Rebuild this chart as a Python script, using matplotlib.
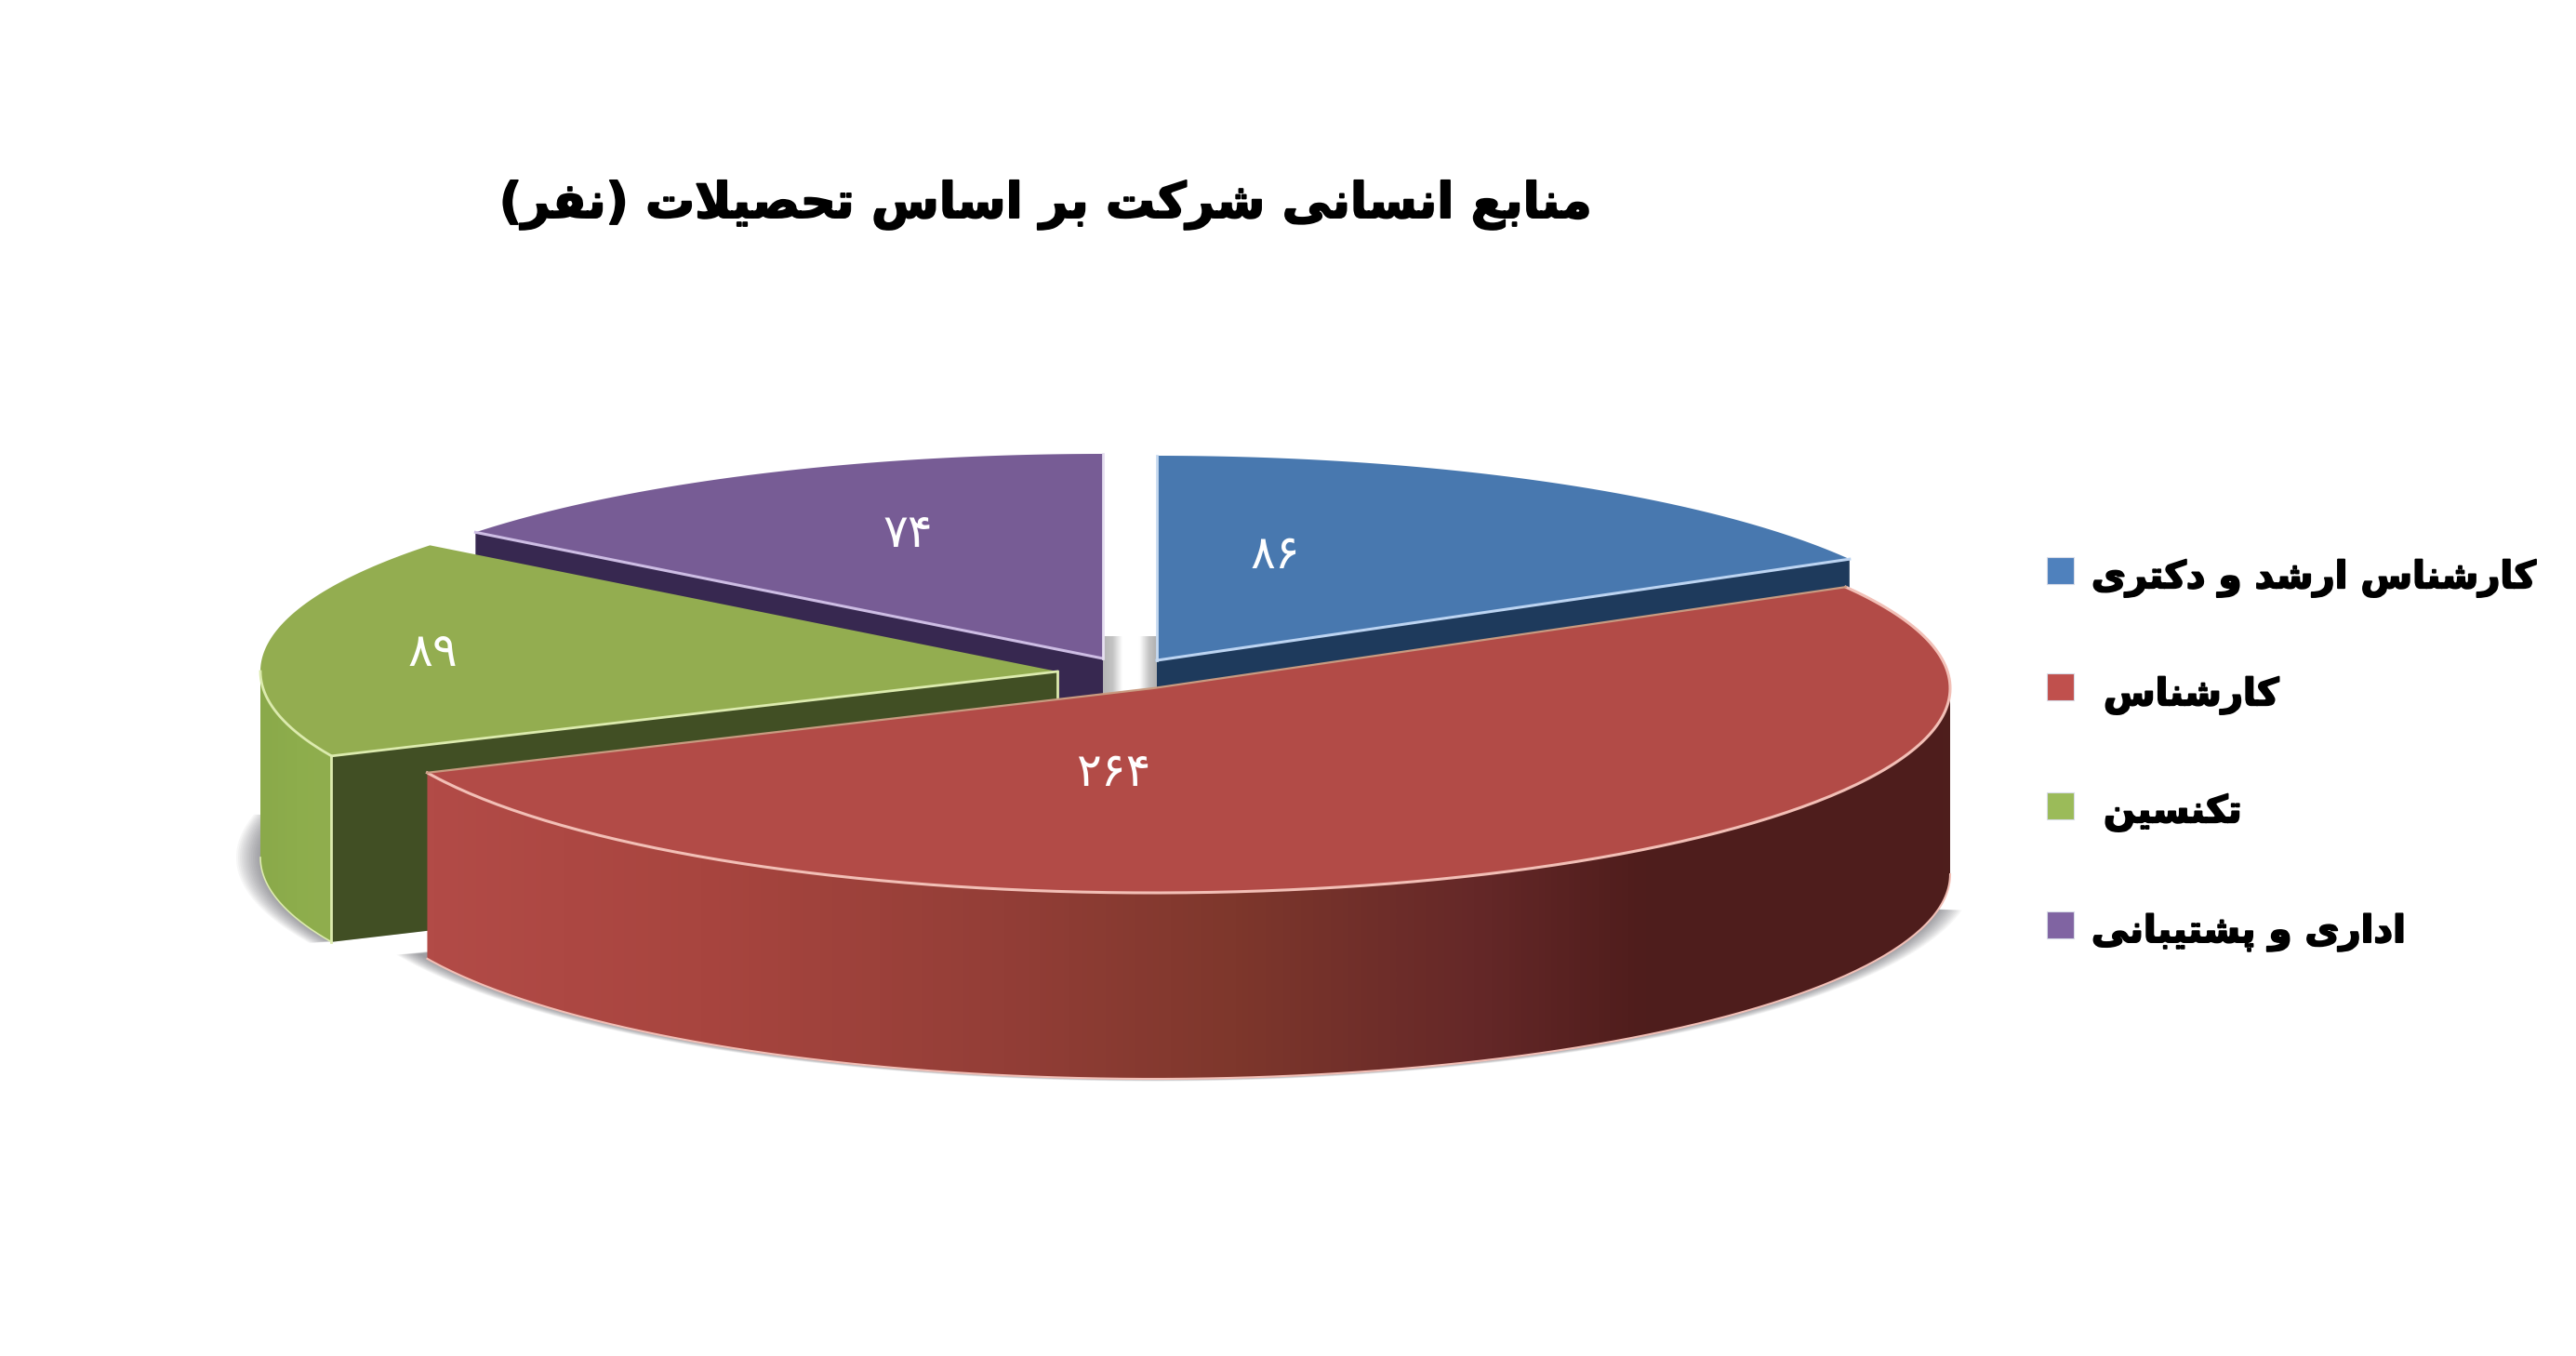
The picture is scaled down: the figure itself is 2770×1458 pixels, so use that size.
import numpy as np
import matplotlib
matplotlib.use("Agg")
from matplotlib import pyplot as plt
from matplotlib import patheffects as pe
from matplotlib.colors import LinearSegmentedColormap
from matplotlib.patches import Polygon, Rectangle

# Data
categories = ["کارشناس ارشد و دکتری", "کارشناس", "تکنسین", "اداری و پشتیبانی"]
values = [86, 264, 89, 74]
value_labels = ["۸۶", "۲۶۴", "۸۹", "۷۴"]
title = "منابع انسانی شرکت بر اساس تحصیلات (نفر)"

# Layout, in picture pixels
W, H = 2770, 1458
RX, RY, DEPTH = 857, 220, 200
apexes = [(1244, 710), (1240, 740), (1137, 722), (1186, 708)]
top_colors = ["#4878AF", "#B24B47", "#93AD50", "#775C95"]
wall_colors = ["#1E3A5C", "#4E1C1B", "#414F24", "#372850"]
edge_colors = ["#BCD4F2", "#F2BFB6", "#DCEBAE", "#CDBDE4"]
legend_colors = ["#4F81BD", "#C0504D", "#9BBB59", "#8064A2"]
label_pos = [(1371, 597), (1197, 831), (465, 702), (976, 574)]
legend_x = [2249, 2262, 2262, 2249]
legend_y = [613, 738, 866, 994]
text_y = [622, 748, 874, 1003]

# Arabic letters -> (isolated, final, initial, medial)
FORMS = {
    "ا": (0xFE8D, 0xFE8E, None, None), "د": (0xFEA9, 0xFEAA, None, None),
    "ر": (0xFEAD, 0xFEAE, None, None), "و": (0xFEED, 0xFEEE, None, None),
    "ب": (0xFE8F, 0xFE90, 0xFE91, 0xFE92), "پ": (0xFB56, 0xFB57, 0xFB58, 0xFB59),
    "ت": (0xFE95, 0xFE96, 0xFE97, 0xFE98), "ح": (0xFEA1, 0xFEA2, 0xFEA3, 0xFEA4),
    "س": (0xFEB1, 0xFEB2, 0xFEB3, 0xFEB4), "ش": (0xFEB5, 0xFEB6, 0xFEB7, 0xFEB8),
    "ص": (0xFEB9, 0xFEBA, 0xFEBB, 0xFEBC), "ع": (0xFEC9, 0xFECA, 0xFECB, 0xFECC),
    "ف": (0xFED1, 0xFED2, 0xFED3, 0xFED4), "ک": (0xFB8E, 0xFB8F, 0xFB90, 0xFB91),
    "ل": (0xFEDD, 0xFEDE, 0xFEDF, 0xFEE0), "م": (0xFEE1, 0xFEE2, 0xFEE3, 0xFEE4),
    "ن": (0xFEE5, 0xFEE6, 0xFEE7, 0xFEE8), "ی": (0xFBFC, 0xFBFD, 0xFBFE, 0xFBFF),
}


def shape(text):
    # matplotlib has no shaping or bidi, so pick the joined forms and reverse
    out = []
    i = 0
    while i < len(text):
        c = text[i]
        if c not in FORMS:
            out.append({"(": ")", ")": "("}.get(c, c))
            i += 1
            continue
        prev_joins = i > 0 and text[i - 1] in FORMS and FORMS[text[i - 1]][2] is not None
        if c == "ل" and i + 1 < len(text) and text[i + 1] == "ا":
            out.append(chr(0xFEFC if prev_joins else 0xFEFB))
            i += 2
            continue
        next_joins = i + 1 < len(text) and text[i + 1] in FORMS
        f = FORMS[c]
        if f[2] is None:
            form = f[1] if prev_joins else f[0]
        elif prev_joins and next_joins:
            form = f[3]
        elif prev_joins:
            form = f[1]
        elif next_joins:
            form = f[2]
        else:
            form = f[0]
        out.append(chr(form))
        i += 1
    return "".join(reversed(out))


def arc(apex, a0, a1, n=200, dy=0, grow=0):
    t = np.radians(np.linspace(a0, a1, n))
    return np.column_stack([apex[0] + (RX + grow) * np.sin(t),
                            apex[1] + dy - (RY + grow * 0.1) * np.cos(t)])


def gradient(ax, poly, x0, x1, stops, z, y0=0, y1=H):
    cmap = LinearSegmentedColormap.from_list("g", stops)
    im = ax.imshow(np.linspace(0, 1, 512)[None, :], extent=(x0, x1, y1, y0), aspect="auto",
                   cmap=cmap, zorder=z, interpolation="bilinear")
    clip = Polygon(poly, closed=True, transform=ax.transData, fill=False, edgecolor="none")
    ax.add_patch(clip)
    im.set_clip_path(clip)


fig = plt.figure(figsize=(W / 100, H / 100), dpi=100, facecolor="white")
ax = fig.add_axes([0, 0, 1, 1])
ax.axis("off")

# slice angles, clockwise from twelve o'clock
edges = np.concatenate([[0], np.cumsum(values)]) / sum(values) * 360
a_blue, a_red, a_green, a_purple = apexes

# soft shadow under the two front slices
for k in range(14):
    grow = 26 - k * 2
    p = a_red
    poly = np.vstack([arc(p, 100, edges[2] + 1.5, dy=DEPTH, grow=grow), [[p[0], p[1] + DEPTH]]])
    ax.add_patch(Polygon(poly, closed=True, facecolor="#505058", edgecolor="none", alpha=0.05, zorder=1))
    p = a_green
    poly = np.vstack([arc(p, edges[2], 282, dy=DEPTH, grow=grow), [[p[0], p[1] + DEPTH]]])
    ax.add_patch(Polygon(poly, closed=True, facecolor="#505058", edgecolor="none", alpha=0.05, zorder=1))

# grey shading seen in the gap between purple and blue
gap = [[a_purple[0], 684], [a_blue[0], 684], [a_blue[0], 750], [a_purple[0], 750]]
gradient(ax, gap, a_purple[0], a_blue[0],
         [(0, "#B4B4B4"), (0.18, "#C4C4C4"), (0.36, "#FFFFFF"), (0.68, "#FFFFFF"),
          (0.86, "#C4C4C4"), (1, "#B0B0B0")], 2)

# back slices: inner wall then top
for idx in (3, 0):
    p = apexes[idx]
    tip = arc(p, edges[idx], edges[idx], n=1)[0] if idx == 3 else arc(p, edges[idx + 1], edges[idx + 1], n=1)[0]
    wall = [tip, p, (p[0], p[1] + DEPTH), (tip[0], tip[1] + DEPTH)]
    ax.add_patch(Polygon(wall, closed=True, facecolor=wall_colors[idx], edgecolor="none", zorder=3))
    top = np.vstack([[p], arc(p, edges[idx], edges[idx + 1])])
    ax.add_patch(Polygon(top, closed=True, facecolor=top_colors[idx], edgecolor="none", zorder=4))
    ax.plot([tip[0], p[0]], [tip[1], p[1]], color=edge_colors[idx], lw=2.2, zorder=5)
ax.plot([a_purple[0]] * 2, [a_purple[1] - RY, a_purple[1]], color="#E6DFF0", lw=2, zorder=5)
ax.plot([a_blue[0]] * 2, [a_blue[1] - RY, a_blue[1]], color="#C8DAF0", lw=2, zorder=5)

# green slice
g0, g1 = edges[2], edges[3]
g_tip = arc(a_green, g0, g0, n=1)[0]
ax.add_patch(Polygon([g_tip, a_green, (a_green[0], a_green[1] + DEPTH), (g_tip[0], g_tip[1] + DEPTH)],
                     closed=True, facecolor=wall_colors[2], edgecolor="none", zorder=6))
g_side = np.vstack([arc(a_green, g0, 270), arc(a_green, 270, g0, dy=DEPTH)])
gradient(ax, g_side, g_side[:, 0].min(), g_tip[0], ["#8AA94A", "#8DAD4C", "#90AE4E"], 6)
g_top = np.vstack([[a_green], arc(a_green, g0, g1)])
ax.add_patch(Polygon(g_top, closed=True, facecolor=top_colors[2], edgecolor="none", zorder=7))
ax.plot(*arc(a_green, 270, g0).T, color=edge_colors[2], lw=2, zorder=8)
ax.plot([g_tip[0], a_green[0]], [g_tip[1], a_green[1]], color=edge_colors[2], lw=2, zorder=8)
ax.plot([g_tip[0]] * 2, [g_tip[1], g_tip[1] + DEPTH], color=edge_colors[2], lw=2, zorder=8)
ax.plot([a_green[0]] * 2, [a_green[1], a_green[1] + 40], color=edge_colors[2], lw=2, zorder=8)
ax.plot(*arc(a_green, 270, g0, dy=DEPTH).T, color=edge_colors[2], lw=1.2, zorder=8)

# red slice, exploded to the front
r0, r1 = edges[1], edges[2]
r_side = np.vstack([arc(a_red, 90, r1), arc(a_red, r1, 90, dy=DEPTH)])
gradient(ax, r_side, r_side[:, 0].min(), r_side[:, 0].max(),
         [(0, "#B24B47"), (0.18, "#A8453F"), (0.38, "#933E37"), (0.53, "#7E372C"),
          (0.69, "#652828"), (0.8, "#4F1D1C"), (1, "#4E1E1C")], 9)
r_top = np.vstack([[a_red], arc(a_red, r0, r1)])
ax.add_patch(Polygon(r_top, closed=True, facecolor=top_colors[1], edgecolor="none", zorder=10))
ax.plot(*arc(a_red, r0, r1).T, color=edge_colors[1], lw=2.2, zorder=11)
ax.plot(*arc(a_red, 90, r1, dy=DEPTH).T, color=edge_colors[1], lw=1.5, zorder=11)
r_tip = arc(a_red, r0, r0, n=1)[0]
r_end = arc(a_red, r1, r1, n=1)[0]
ax.plot([r_tip[0], a_red[0], r_end[0]], [r_tip[1], a_red[1], r_end[1]], color="#C99A80", lw=1.6, zorder=11)

# value labels
for lab, (x, y) in zip(value_labels, label_pos):
    ax.text(x, y, lab, color="white", fontsize=36, ha="center", va="center", zorder=12,
            family="DejaVu Sans")

# the reference font is heavier than DejaVu Bold, so thicken a little
heavy = [pe.withStroke(linewidth=1.4, foreground="black")]

# title
ax.text(1124, 220, shape(title), fontsize=38, fontweight="bold", ha="center", va="center",
        family="DejaVu Sans", color="black", path_effects=heavy)

# legend
for name, col, lx, y, ty in zip(categories, legend_colors, legend_x, legend_y, text_y):
    ax.add_patch(Rectangle((2201, y - 14), 29, 29, facecolor=col, edgecolor="#D8DCE8", lw=0.8, zorder=3))
    ax.text(lx, ty, shape(name), fontsize=29, fontweight="bold", ha="left", va="center",
            family="DejaVu Sans", color="black", path_effects=heavy)

ax.set_xlim(0, W)
ax.set_ylim(H, 0)
fig.savefig("out.png", dpi=100, facecolor="white")
